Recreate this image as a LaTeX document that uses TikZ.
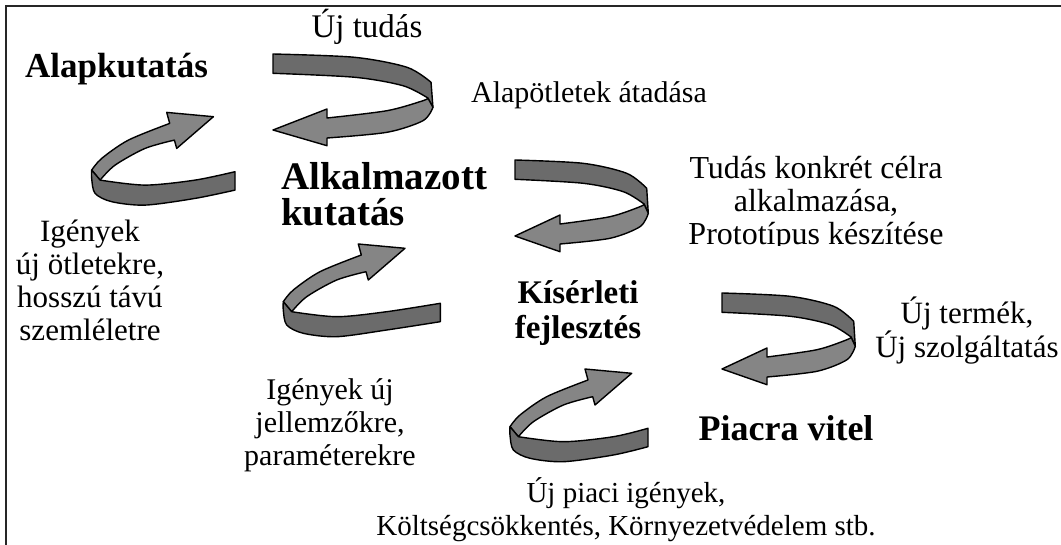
\documentclass[tikz,border=0pt]{standalone}
\usepackage{fontspec}
\setmainfont{Liberation Serif}
\newcommand{\ribbonA}[3]{% #1,#2 origin (top of flat end), #3 xscale
  \begin{scope}[shift={(#1,#2)}, xscale=#3]
    \path[dk] (0,0) -- plot[smooth] coordinates {(0,0) (68,3.3) (111.7,13.3) (131.7,28.3)}
      -- (133.3,53.3) -- plot[smooth] coordinates {(129,44) (108.3,31.7) (68.3,23.3) (0,19.3)} -- cycle;
    \path[lt] (133.3,53.3) -- plot[smooth] coordinates {(133.3,53.3) (125,66.7) (95,78.3) (45,84)}
      -- (45,91.7) -- (0,76) -- (45,55) -- plot[smooth] coordinates {(45,64) (95,56.7) (125,46.7) (129,44)} -- cycle;
  \end{scope}}
\newcommand{\ribbonB}[3]{% #1,#2 origin (left of curl, tip height), #3 flat end x
  \begin{scope}[shift={(#1,#2)}]
    \path[lt] (0,53.4) -- plot[smooth] coordinates {(0,53.4) (10,41.7) (36.7,23.4) (78,6.7)}
      -- (75,-4.3) -- (121.7,0) -- (85,31.7) -- plot[smooth] coordinates {(82.7,23.4) (53.4,31.7) (23.4,48.4) (8.4,63.4)} -- cycle;
    \path[dk] (0,53.4) -- plot[smooth] coordinates {(8.4,63.4) (53.4,68.4) (103.4,63.4) (#3,55)}
      -- plot[smooth] coordinates {(#3,73.4) (103.4,81.7) (53.4,88.4) (20,85) (3.4,76.7) (0,62) (0,53.4)} -- cycle;
  \end{scope}}
\begin{document}
\begin{tikzpicture}[x=1pt,y=-1pt,
  lbl/.style={font=\fontsize{30}{33}\selectfont, inner sep=0pt, align=center, anchor=base},
  ttl/.style={font=\fontsize{33}{35}\selectfont\bfseries, inner sep=0pt, align=center, anchor=base},
  dk/.style={fill=black!58, draw=black, line width=1.4pt, line join=round},
  lt/.style={fill=black!48, draw=black, line width=1.4pt, line join=round}]
\useasboundingbox (0,0) rectangle (1061,545);
\draw[line width=1.6pt, black!85] (1061,6) -- (6,6) -- (6,545);
% ribbons
\ribbonA{273}{54}{1.2}
\ribbonA{515}{160}{1}
\ribbonA{722}{293}{1}
\ribbonB{91.7}{116.7}{143.3}
\ribbonB{283.3}{248.3}{157}
\ribbonB{510}{373.3}{138}
% texts (multi-line nodes: base = last line)
\node[lbl, font=\fontsize{33}{35}\selectfont] (ujtudas) at (367,38) {Új tudás};
\node[ttl, font=\fontsize{35}{37}\selectfont\bfseries, anchor=base west] (alap) at (25,78) {Alapkutatás};
\node[lbl] (atad) at (589,103) {Alapötletek átadása};
\node[ttl, font=\fontsize{39}{36}\selectfont\bfseries, align=left, anchor=base west] (alk) at (281,226) {Alkalmazott\\kutatás};
\begin{scope}
  \clip (600,140) rectangle (1000,246);
  \node[lbl, font=\fontsize{32}{33}\selectfont] (tudas) at (816,245) {Tudás konkrét célra\\alkalmazása,\\Prototípus készítése};
\end{scope}
\node[lbl, font=\fontsize{31}{33}\selectfont] (igeny1) at (90,341) {Igények\\új ötletekre,\\hosszú távú\\szemléletre};
\node[ttl] (kis) at (578,339) {Kísérleti\\fejlesztés};
\node[lbl, font=\fontsize{31}{33}\selectfont] (termek) at (967,358) {Új termék,\\Új szolgáltatás};
\node[lbl] (igeny2) at (330,465) {Igények új\\jellemzőkre,\\paraméterekre};
\node[ttl, font=\fontsize{36}{37}\selectfont\bfseries] (piac) at (786,441) {Piacra vitel};
\node[lbl, font=\fontsize{29}{33}\selectfont] (piaci) at (626,535) {Új piaci igények,\\Költségcsökkentés, Környezetvédelem stb.};
\end{tikzpicture}
\end{document}
